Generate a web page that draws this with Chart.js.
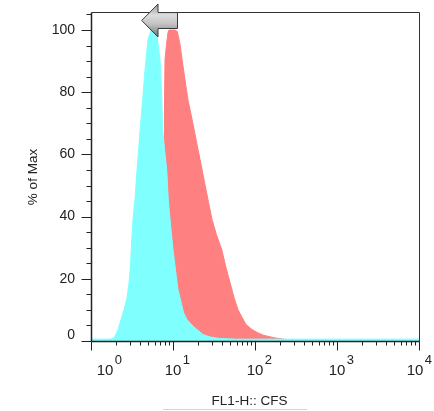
<!DOCTYPE html>
<html>
<head>
<meta charset="utf-8">
<script src="https://cdn.jsdelivr.net/npm/chart.js@4.4.0/dist/chart.umd.min.js"></script>
<style>
  body { margin: 0; background: #fff; }
  #wrap { position: relative; width: 434px; height: 411px; }
</style>
</head>
<body>
<div id="wrap"><canvas id="myChart"></canvas></div>
<script>
// histograma cian (control): x = FL1-H, y = % of Max
const cyanX = [1, 1.7, 1.86, 1.96, 2.14, 2.32, 2.53, 2.75, 2.91, 3.03,
    3.14, 3.25, 3.44, 3.64, 3.77, 4.02, 4.27, 4.56, 4.96, 5.39,
    6.29, 6.47, 6.94, 7.24, 7.49, 7.88, 8.38, 8.76, 9.32, 10.0,
    10.9, 11.5, 12.5, 13.4, 14.8, 17.5, 19.6, 23.2, 28.3, 37.4,
    60, 500, 10000]
const cyanY = [0.6, 0.6, 0.8, 1.5, 3.7, 6.9, 10.1, 14, 18.8, 24.3,
    32.6, 39, 45.5, 55, 60, 69.6, 77.7, 87.3, 97, 100,
    100, 97, 90.5, 80.9, 68, 61.6, 55, 45.5, 37.5, 29.4,
    21.4, 16.6, 12.7, 9.2, 6.9, 4.8, 3.7, 2.1, 1.3, 0.8,
    0.6, 0.6, 0.6]

// histograma rojo
const redX = [1, 1.96, 2.6, 3.44, 4.56, 5.55, 6.38, 6.94, 7.34, 7.66,
    7.77, 7.88, 7.99, 8.33, 8.69, 8.94, 10.6, 11.3, 12.2, 12.9,
    14.0, 15.2, 17.1, 19.1, 21.4, 23.9, 26.7, 29.9, 33.9, 39.3,
    44.3, 49.6, 55.5, 62.0, 69.4, 77.7, 91.9, 109, 129, 175,
    267, 10000]
const redY = [0, 0.3, 0.5, 1.1, 2.7, 6.9, 16.6, 32.6, 45.5, 58.3,
    64.8, 77.7, 90.5, 95.3, 99.2, 100, 100, 99.5, 95.3, 90.5,
    84, 77.7, 71.2, 64.8, 58.3, 51.9, 45.5, 39.1, 34.2, 29.4,
    23.6, 18.8, 14, 10.1, 7.6, 5.3, 3.7, 2.6, 1.8, 1.0,
    0.3, 0]

const yLabels = [0, 20, 40, 60, 80, 100]
const xDecades = [0, 1, 2, 3, 4]
const tituloX = "FL1-H:: CFS"
const tituloY = "% of Max"

const FONT = '"Liberation Sans", Arial, sans-serif'
const INK = '#222'

const puntos = (xs, ys) => xs.map((v, i) => ({ x: v, y: ys[i] }))

function linea(ctx, x1, y1, x2, y2) {
    ctx.beginPath()
    ctx.moveTo(x1, y1)
    ctx.lineTo(x2, y2)
    ctx.stroke()
}

const nitido = (v) => Math.round(v) + 0.5

// ejes estilo FlowJo, dibujados con las escalas del chart
const ejes = {
    id: 'ejes',
    afterDraw(chart) {
        const { ctx, chartArea: a, scales: { x, y } } = chart
        const L = nitido(a.left), R = nitido(a.right), T = nitido(a.top), B = nitido(a.bottom)
        ctx.save()

        // marco
        ctx.strokeStyle = '#333'
        ctx.lineWidth = 1
        linea(ctx, L, T, R, T)
        linea(ctx, R, T, R, B)
        ctx.strokeStyle = INK
        ctx.lineWidth = 1.5
        linea(ctx, L, T, L, B)
        linea(ctx, L, B, R, B)

        // ticks eje y
        ctx.lineWidth = 1
        for (let v = 0; v <= 105; v += 5) {
            const py = nitido(y.getPixelForValue(v))
            const largo = v % 20 === 0 ? 10 : 5
            linea(ctx, L - largo, py, L, py)
        }
        ctx.fillStyle = INK
        ctx.font = `14px ${FONT}`
        ctx.textAlign = 'right'
        ctx.textBaseline = 'middle'
        yLabels.forEach(v => {
            let py = y.getPixelForValue(v)
            if (v === 0) py -= 6
            ctx.fillText(String(v), a.left - 16, py)
        })

        // ticks eje x (log)
        xDecades.forEach(k => {
            for (let m = 1; m <= 9; m++) {
                if (k === 4 && m > 1) break
                const px = nitido(x.getPixelForValue(m * Math.pow(10, k)))
                linea(ctx, px, B, px, B + (m === 1 ? 9 : 4))
            }
        })
        ctx.textAlign = 'left'
        ctx.textBaseline = 'alphabetic'
        xDecades.forEach(k => {
            let px = x.getPixelForValue(Math.pow(10, k))
            if (k === 0) px += 14
            if (k === 4) px -= 4
            ctx.font = `15px ${FONT}`
            const w = ctx.measureText('10').width
            ctx.fillText('10', px - w / 2, a.bottom + 33.5)
            ctx.font = `13px ${FONT}`
            ctx.fillText(String(k), px + w / 2 + 1.5, a.bottom + 23)
        })

        // titulos
        ctx.font = `13.5px ${FONT}`
        ctx.textAlign = 'center'
        ctx.fillText(tituloX, 249.5, 405)
        ctx.save()
        ctx.translate(37, 177)
        ctx.rotate(-Math.PI / 2)
        ctx.fillText(tituloY, 0, 0)
        ctx.restore()

        ctx.strokeStyle = '#d4d4d4'
        linea(ctx, 163, 409.5, 307, 409.5)

        // flecha gris arriba
        const g = ctx.createLinearGradient(0, 4, 0, 37)
        g.addColorStop(0, '#9c9c9c')
        g.addColorStop(0.35, '#dcdcdc')
        g.addColorStop(0.6, '#c4c4c4')
        g.addColorStop(1, '#727272')
        ctx.beginPath()
        ctx.moveTo(141.7, 20.5)
        ctx.lineTo(158, 4)
        ctx.lineTo(158, 12.5)
        ctx.lineTo(177.5, 12.5)
        ctx.lineTo(177.5, 28.5)
        ctx.lineTo(158, 28.5)
        ctx.lineTo(158, 37)
        ctx.closePath()
        ctx.fillStyle = g
        ctx.fill()
        ctx.strokeStyle = '#3a3a3a'
        ctx.lineWidth = 1
        ctx.stroke()

        ctx.restore()
    }
}

const config = {
    type: 'line',
    data: {
        datasets: [
            {
                label: 'cian',
                data: puntos(cyanX, cyanY),
                borderColor: '#80ffff',
                backgroundColor: '#80ffff',
                borderWidth: 1,
                pointRadius: 0,
                fill: 'origin',
                tension: 0
            },
            {
                label: 'rojo',
                data: puntos(redX, redY),
                borderColor: '#ff8080',
                backgroundColor: '#ff8080',
                borderWidth: 1,
                pointRadius: 0,
                fill: 'origin',
                tension: 0
            }
        ]
    },
    options: {
        responsive: true,
        maintainAspectRatio: false,
        animation: false,
        layout: { padding: { left: 91, top: 12, right: 15, bottom: 70 } },
        plugins: { legend: { display: false }, tooltip: { enabled: false } },
        scales: {
            x: { type: 'logarithmic', min: 1, max: 10000, display: false },
            y: { type: 'linear', min: 0, max: 105.8, display: false }
        }
    },
    plugins: [ejes]
}

new Chart(document.getElementById('myChart'), config)
</script>
</body>
</html>
